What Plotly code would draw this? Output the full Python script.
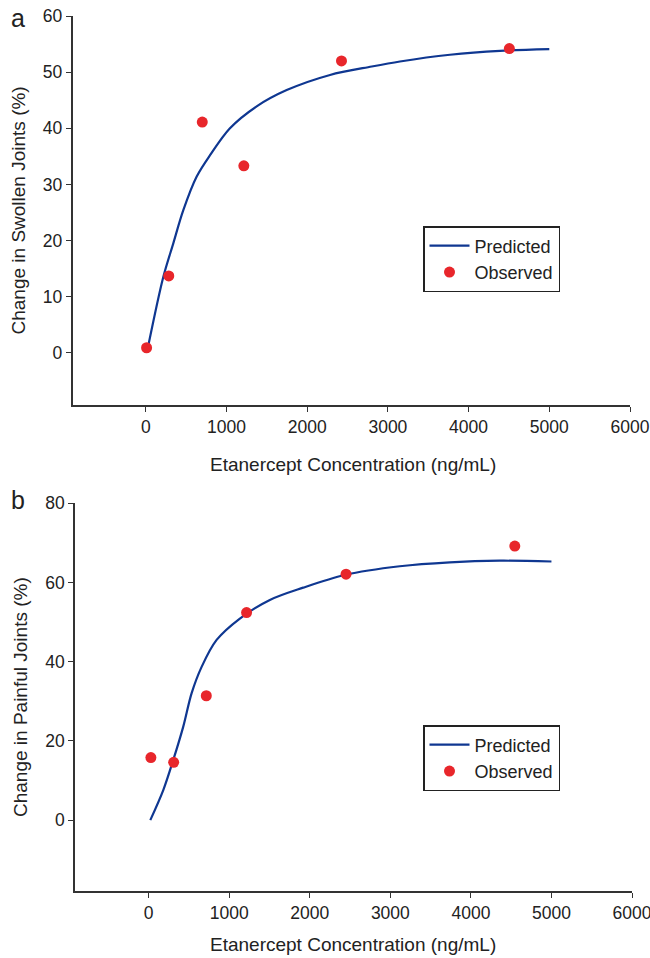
import plotly.graph_objects as go

# ---------------- data ----------------
# Panel a: swollen joints
obs_a_x = [10, 285, 700, 1215, 2425, 4505]
obs_a_y = [0.9, 13.7, 41.1, 33.3, 52.0, 54.2]
pred_a_x = [30, 217, 341, 465, 631, 796, 1043, 1374, 1746, 2283, 2800, 3149, 3769, 4389, 5000]
pred_a_y = [1.2, 13.5, 19.5, 25.4, 31.4, 35.2, 40.0, 43.9, 46.8, 49.5, 51.0, 51.9, 53.1, 53.8, 54.1]

# Panel b: painful joints
obs_b_x = [27, 310, 715, 1215, 2450, 4545]
obs_b_y = [15.8, 14.6, 31.4, 52.4, 62.1, 69.2]
pred_b_x = [20, 181, 305, 429, 532, 657, 843, 1132, 1504, 1918, 2435, 3117, 3738, 4358, 5000]
pred_b_y = [0.0, 7.6, 15.2, 23.6, 32.0, 38.7, 45.5, 50.9, 55.6, 58.7, 61.9, 64.1, 65.1, 65.5, 65.3]

x_ticks = [0, 1000, 2000, 3000, 4000, 5000, 6000]
y_ticks_a = [0, 10, 20, 30, 40, 50, 60]
y_ticks_b = [0, 20, 40, 60, 80]

x_title = "Etanercept Concentration (ng/mL)"
y_title_a = "Change in Swollen Joints (%)"
y_title_b = "Change in Painful Joints (%)"

# ---------------- styling ----------------
W, H = 650, 958
FONT = "Liberation Sans, Arial, sans-serif"
TXT = "#222222"
AX = "#333333"
BLUE = "#0f3791"
RED = "#e8262b"

fig = go.Figure()

fig.add_trace(go.Scatter(x=pred_a_x, y=pred_a_y, mode="lines", name="Predicted",
                         line=dict(color=BLUE, width=2.2, shape="spline", smoothing=0.9),
                         xaxis="x", yaxis="y", legend="legend"))
fig.add_trace(go.Scatter(x=obs_a_x, y=obs_a_y, mode="markers", name="Observed",
                         marker=dict(color=RED, size=11),
                         xaxis="x", yaxis="y", legend="legend"))
fig.add_trace(go.Scatter(x=pred_b_x, y=pred_b_y, mode="lines", name="Predicted",
                         line=dict(color=BLUE, width=2.2, shape="spline", smoothing=0.9),
                         xaxis="x2", yaxis="y2", legend="legend2"))
fig.add_trace(go.Scatter(x=obs_b_x, y=obs_b_y, mode="markers", name="Observed",
                         marker=dict(color=RED, size=11),
                         xaxis="x2", yaxis="y2", legend="legend2"))


def px_x(p):
    return p / W


def px_y(p):
    return 1 - p / H


axis_common = dict(showline=True, linecolor=AX, linewidth=1.5, ticks="outside",
                   ticklen=5, tickwidth=1.3, tickcolor=AX, showgrid=False,
                   zeroline=False, automargin=False, ticklabeloverflow="allow",
                   tickfont=dict(size=17.5, color=TXT, family=FONT))

legend_common = dict(bgcolor="white", bordercolor="#222222", borderwidth=1.5,
                     font=dict(size=18, color=TXT, family=FONT),
                     xanchor="left", yanchor="top", itemwidth=40,
                     tracegroupgap=0)

fig.update_layout(
    width=W, height=H, autosize=False,
    margin=dict(l=0, r=0, t=0, b=0, autoexpand=False),
    paper_bgcolor="white", plot_bgcolor="white",
    font=dict(family=FONT, color=TXT),
    xaxis=dict(domain=[px_x(72.5), px_x(630)], range=[-908, 6000],
               tickvals=x_ticks, anchor="y", **axis_common),
    yaxis=dict(domain=[px_y(405), px_y(16)], range=[-9.3, 60],
               tickvals=y_ticks_a, anchor="x", **axis_common),
    xaxis2=dict(domain=[px_x(75), px_x(632)], range=[-915, 6000],
                tickvals=x_ticks, anchor="y2", **axis_common),
    yaxis2=dict(domain=[px_y(891), px_y(503.3)], range=[-17.9, 80],
                tickvals=y_ticks_b, anchor="x2", **axis_common),
    legend=dict(x=px_x(423), y=px_y(226), **legend_common),
    legend2=dict(x=px_x(423), y=px_y(725), **legend_common),
    showlegend=True,
)

annots = [
    dict(text="a", x=px_x(18), y=px_y(18), font=dict(size=25)),
    dict(text="b", x=px_x(18), y=px_y(500), font=dict(size=25)),
    dict(text=x_title, x=px_x(353), y=px_y(464), font=dict(size=19)),
    dict(text=x_title, x=px_x(353), y=px_y(944), font=dict(size=19)),
    dict(text=y_title_a, x=px_x(18), y=px_y(210.5), font=dict(size=19), textangle=-90),
    dict(text=y_title_b, x=px_x(20), y=px_y(697), font=dict(size=19), textangle=-90),
]
for a in annots:
    a.update(xref="paper", yref="paper", showarrow=False, xanchor="center", yanchor="middle")
    a["font"].update(family=FONT, color=TXT)
    fig.add_annotation(**a)

page_js = ("document.documentElement.style.margin='0';"
           "document.documentElement.style.overflow='hidden';"
           "document.body.style.margin='0';"
           "document.body.style.padding='0';"
           "document.body.style.overflow='hidden';")

fig.write_html("out.html", post_script=page_js,
               config={"responsive": False, "displayModeBar": False})
